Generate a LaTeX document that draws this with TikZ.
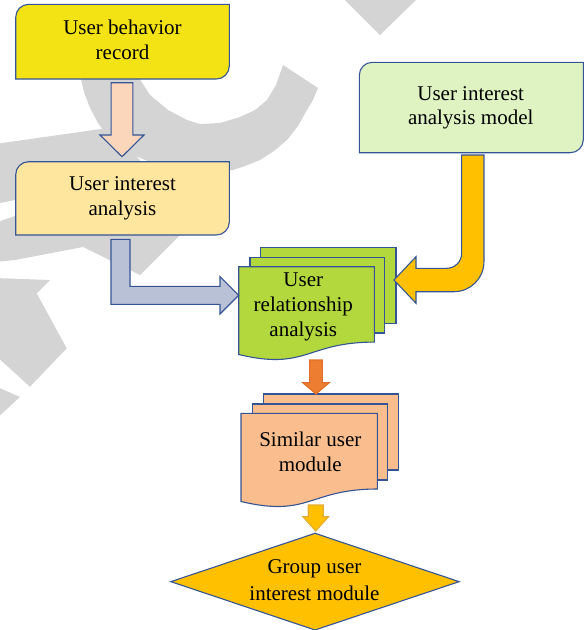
\documentclass[tikz,border=0pt]{standalone}
\usepackage{fontspec}
\setmainfont{Liberation Serif}
\newfontfamily\serifface{Liberation Serif}
\usetikzlibrary{calc,backgrounds}

\definecolor{edge}{RGB}{52,84,150}
\definecolor{wmgray}{RGB}{212,212,212}
\definecolor{recyellow}{RGB}{244,227,20}
\definecolor{peach}{RGB}{251,214,186}
\definecolor{paleyellow}{RGB}{255,230,158}
\definecolor{palegreen}{RGB}{222,242,194}
\definecolor{slateblue}{RGB}{185,193,214}
\definecolor{lime}{RGB}{178,216,62}
\definecolor{amber}{RGB}{255,192,0}
\definecolor{amberline}{RGB}{228,172,50}
\definecolor{burnt}{RGB}{237,125,49}
\definecolor{burntline}{RGB}{226,112,40}
\definecolor{salmon}{RGB}{250,190,142}

% centred multi-line label whose baseline is the first line
\newcommand\ml[1]{\begin{tabular}[t]{@{}c@{}}#1\end{tabular}}

% box with rounded top-left and bottom-right corners around node #1
\newcommand\tabbox[2]{%
  \path[#2] ($(#1.north west)+(0,13)$)
    .. controls ($(#1.north west)+(0,5.8)$) and ($(#1.north west)+(5.8,0)$) .. ($(#1.north west)+(13,0)$)
    -- (#1.north east) -- ($(#1.south east)+(0,-13)$)
    .. controls ($(#1.south east)+(0,-5.8)$) and ($(#1.south east)+(-5.8,0)$) .. ($(#1.south east)+(-13,0)$)
    -- (#1.south west) -- cycle;}

% document shape with a wavy bottom filling node #1
\newcommand\docshape[2]{%
  \path[#2] let \p1=(#1.north west), \p2=(#1.south east) in
    (\x1,\y1) -- (\x2,\y1) -- (\x2,{\y1+0.802*(\y2-\y1)})
    .. controls ({(\x1+\x2)/2},{\y1+0.802*(\y2-\y1)}) and ({(\x1+\x2)/2},{\y1+1.1075*(\y2-\y1)}) ..
    (\x1,{\y1+0.934*(\y2-\y1)}) -- cycle;}

% downward block arrow: style, top point, tip point, shaft half width, head half width, head length
\newcommand\downblock[6]{%
  \path[#1] let \p1=#2, \p2=#3 in
    (\x2-#4,\y1) -- (\x2+#4,\y1) -- (\x2+#4,\y2+#6) -- (\x2+#5,\y2+#6) -- (\x2,\y2)
    -- (\x2-#5,\y2+#6) -- (\x2-#4,\y2+#6) -- cycle;}

\tikzset{
  outline/.style={draw=edge,line width=1.1pt,line join=miter},
  boxnode/.style={inner sep=0pt,outer sep=0pt,draw=none},
  lbl/.style={anchor=base,inner sep=0pt,font=\serifface\fontsize{21}{#1}\selectfont},
  lbl/.default=24.8,
  wm/.style={fill=wmgray,draw=none}
}

\begin{document}
\begin{tikzpicture}[x=1pt,y=-1pt]
\useasboundingbox (0,0) rectangle (586,630);

% shape frames
\node[boxnode,minimum width=213.6pt,minimum height=74.7pt] (b1) at (122.5,41.65) {};
\node[boxnode,minimum width=213.6pt,minimum height=73.3pt] (b2) at (122.5,198.35) {};
\node[boxnode,minimum width=224pt,minimum height=90.4pt] (b3) at (471.3,107.5) {};
\node[boxnode,minimum width=135.6pt,minimum height=94pt] (rel) at (306.5,313.7) {};
\node[boxnode,minimum width=136.3pt,minimum height=94.4pt] (sim) at (309.15,460.5) {};
\node[boxnode,minimum width=288.3pt,minimum height=96.7pt] (grp) at (315,581.65) {};

% labels
\node[lbl] (b1t) at (122.5,34.3) {\ml{User behavior\\record}};
\node[lbl] (b2t) at (122.5,190.7) {\ml{User interest\\analysis}};
\node[lbl] (b3t) at (470.7,100) {\ml{User interest\\analysis model}};
\node[lbl=25] (relt) at (303.3,286) {\ml{User\\relationship\\analysis}};
\node[lbl=25] (simt) at (310.3,446.7) {\ml{Similar user\\module}};
\node[lbl=26.7] (grpt) at (314.5,573.3) {\ml{Group user\\interest module}};

\begin{scope}[on background layer]
  % grey stamp letters behind the chart
  \fill[wm] (318,88) -- (313,100) -- (307,110) -- (298,126) -- (287,140) -- (274,151) -- (260,160)
    -- (245,166) -- (233,170) -- (200,174) -- (170,168) -- (150,162) -- (133,155) -- (118,146)
    -- (108,137) -- (98,123) -- (90,108) -- (84,92) -- (80,75) -- (76,50) -- (74,30)
    -- (128,40) -- (137,75) -- (150,95) -- (168,110) -- (187,120) -- (200,124) -- (220,123)
    -- (240,117) -- (255,110) -- (267,100) -- (276,85) -- (283,65) -- cycle;
  \fill[wm] (343,-2) -- (380,35) -- (418,-2) -- cycle;
  \fill[wm] (-5,144) -- (108,128) -- (140,160) -- (140,175) -- (-5,204) -- cycle;
  \fill[wm] (-5,223) -- (60,200) -- (200,200) -- (200,215) -- (140,275) -- (83,247)
    -- (15,260) -- (-5,262) -- cycle;
  \fill[wm] (-5,278) -- (50,280) -- (36.7,293.3) -- (66.7,348.3) -- (30,386.7) -- (-5,355) -- cycle;
  \fill[wm] (-5,386) -- (20,397) -- (-5,420) -- cycle;

  % process boxes
  \tabbox{b1}{outline,fill=recyellow}
  \tabbox{b2}{outline,fill=paleyellow}
  \tabbox{b3}{outline,fill=palegreen}

  % stacked documents
  \path[outline,fill=lime] ($(rel.north west)+(22,-19.4)$) rectangle ($(rel.north west)+(157.3,56.6)$);
  \path[outline,fill=lime] ($(rel.north west)+(11.3,-9.4)$) rectangle ($(rel.north west)+(146,66.3)$);
  \docshape{rel}{outline,fill=lime}
  \path[outline,fill=salmon] ($(sim.north west)+(22.3,-19.3)$) rectangle ($(sim.north west)+(157.3,56.7)$);
  \path[outline,fill=salmon] ($(sim.north west)+(11.3,-9.3)$) rectangle ($(sim.north west)+(146.3,66.7)$);
  \docshape{sim}{outline,fill=salmon}

  % decision
  \path[outline,fill=amber] (grp.west) -- (grp.north) -- (grp.east) -- (grp.south) -- cycle;
\end{scope}

% block arrows
\downblock{outline,fill=peach}{($(b1.south)+(-0.5,3.7)$)}{($(b2.north)+(-0.5,-5)$)}{10.85}{22}{21.7}

\path[outline,fill=slateblue] let \p1=($(b2.south)+(-2,4.3)$), \p2=($(rel.west)+(0,-18.4)$) in
  (\x1-9.5,\y1) -- (\x1+9.5,\y1) -- (\x1+9.5,\y2+9) -- (\x2-18.7,\y2+9) -- (\x2-18.7,\y2+18.7)
  -- (\x2,\y2) -- (\x2-18.7,\y2-18.7) -- (\x2-18.7,\y2-9) -- (\x1-9.5,\y2-9) -- cycle;

\path[outline,fill=amber] let \p1=($(b3.south)+(1.5,2.3)$), \p2=($(rel.east)+(19.7,-33.7)$) in
  (\x1-11.15,\y1) -- (\x1+11.15,\y1) -- (\x1+11.15,\y2-11.7+30)
  .. controls (\x1+11.15,\y2-11.7+13.4) and (\x1+11.15-13.4,\y2-11.7) .. (\x1+11.15-30,\y2-11.7)
  -- (\x2+22,\y2-11.7) -- (\x2+22,\y2-23.3) -- (\x2,\y2) -- (\x2+22,\y2+23.3) -- (\x2+22,\y2+11.7)
  -- (\x1-11.15-15,\y2+11.7)
  .. controls (\x1-11.15-15+8.3,\y2+11.7) and (\x1-11.15,\y2+11.7+15-8.3) .. (\x1-11.15,\y2+11.7+15)
  -- cycle;

\downblock{draw=burntline,line width=1.1pt,fill=burnt}{($(rel.south)+(9.5,-0.7)$)}{($(sim.north)+(6.85,-19.3)$)}{6.35}{13.3}{11.3}
\downblock{draw=amberline,line width=1.1pt,fill=amber}{($(sim.south)+(6.5,-2.7)$)}{($(grp.north)+(0.7,-2.3)$)}{7.5}{12.85}{14.3}
\end{tikzpicture}
\end{document}
